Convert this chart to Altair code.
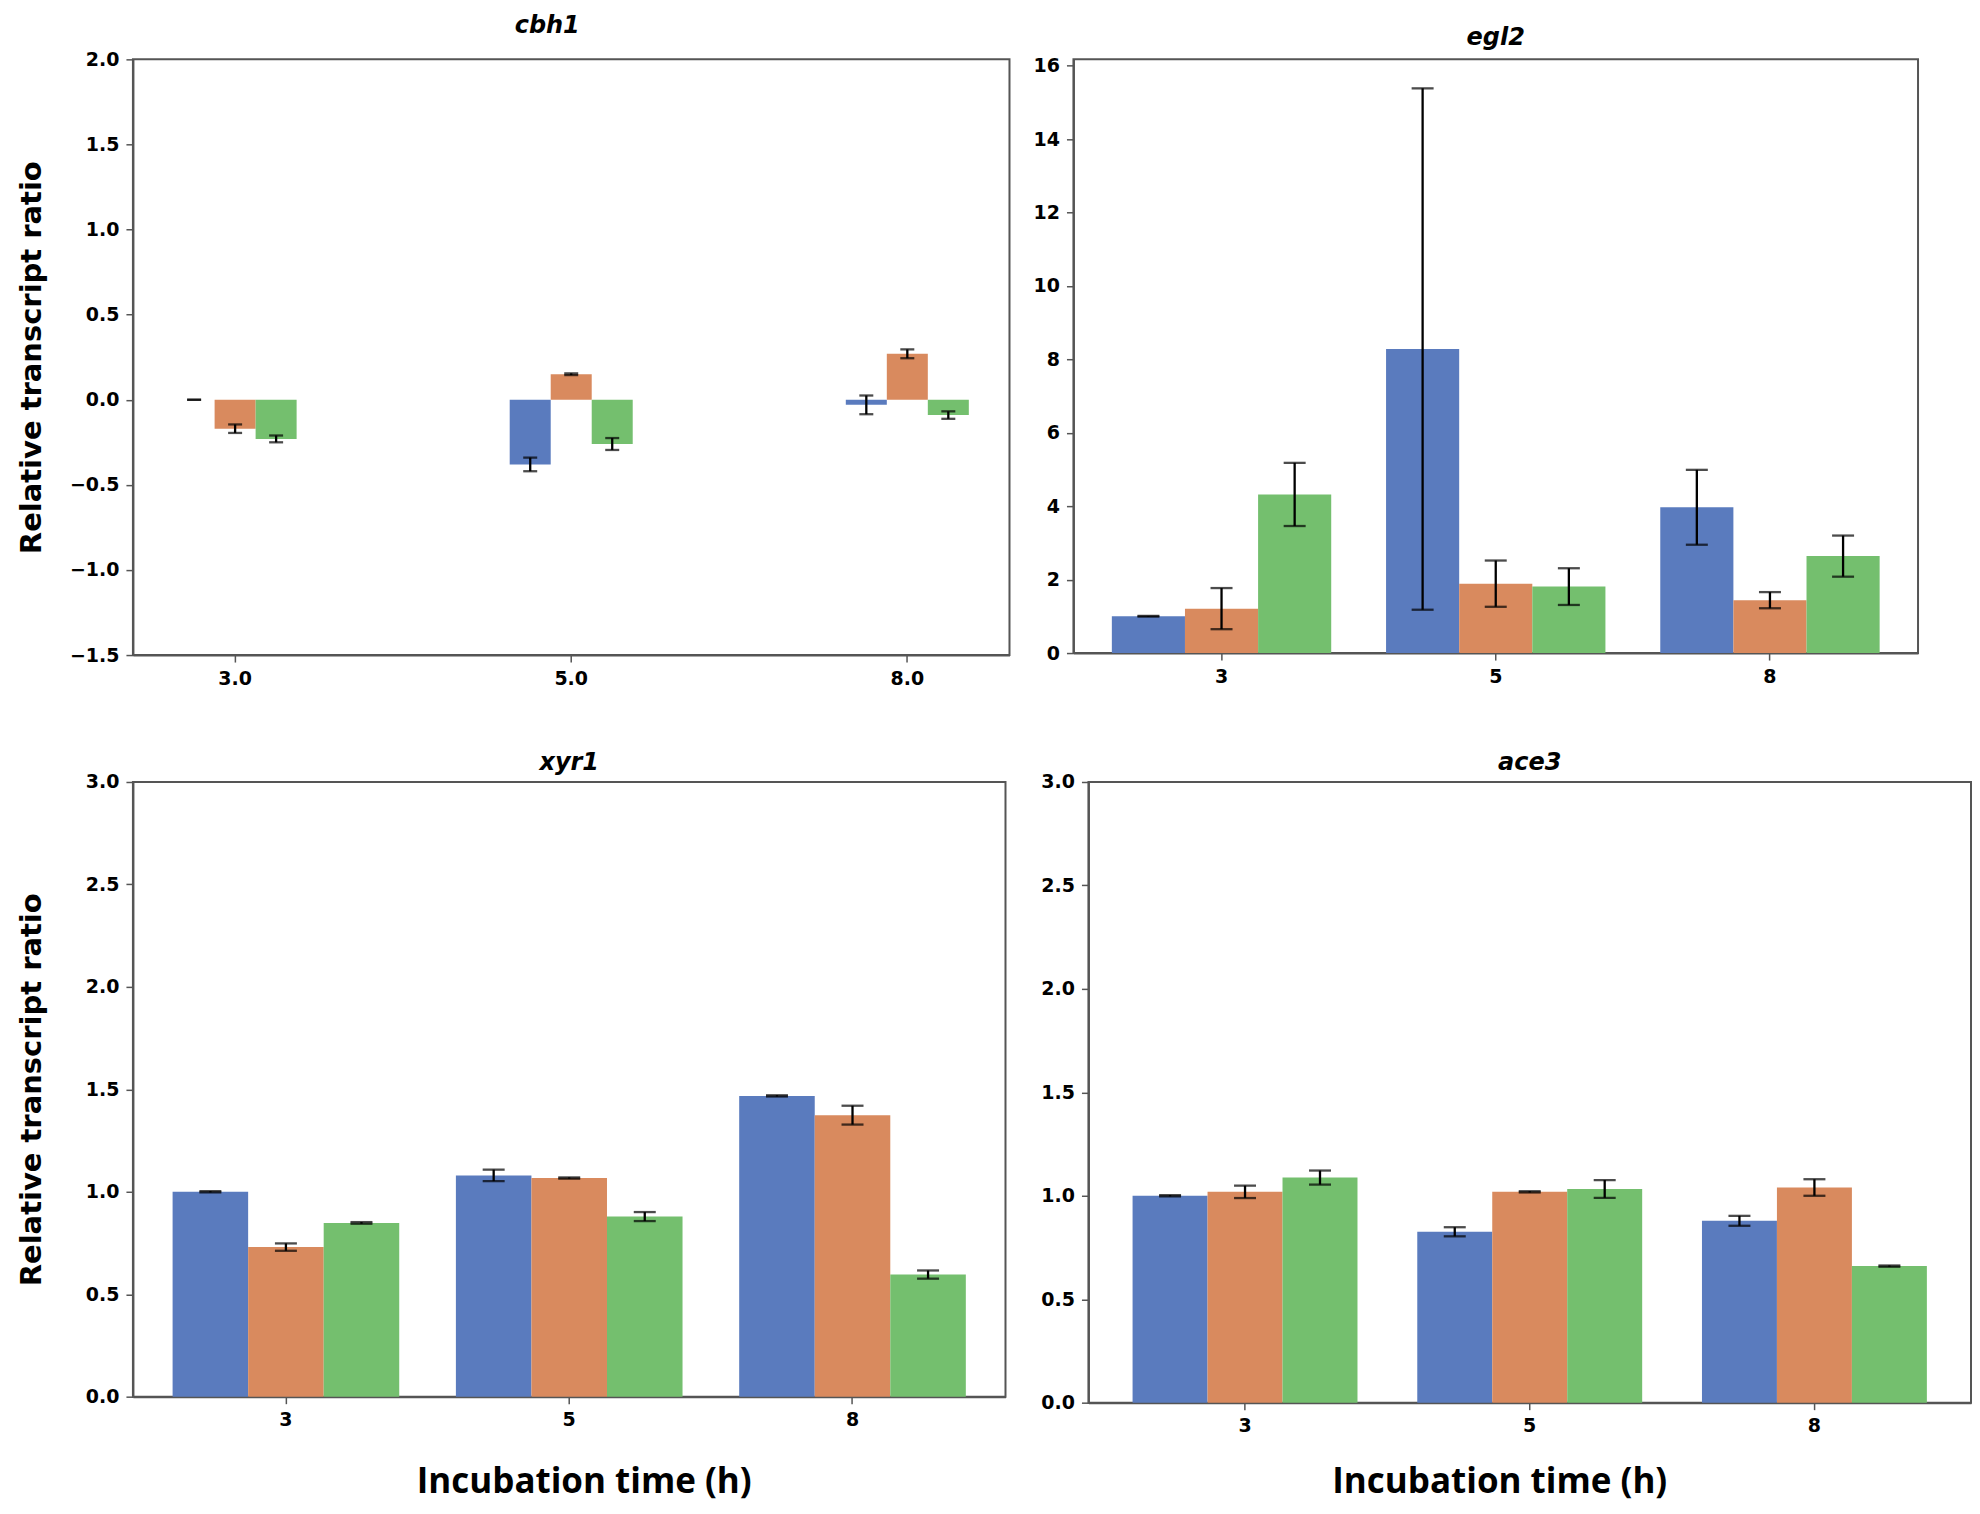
import altair as alt
import pandas as pd

# three unnamed series (no legend in the figure), drawn blue / orange / green
series = ["s1", "s2", "s3"]
colors = ["#5A7BBE", "#D98A5E", "#74BF6E"]

times = ["3", "5", "8"]
cbh1_times = ["3.0", "5.0", "8.0"]

cbh1_blue = [0.0, -0.38, -0.03]
cbh1_blue_err = [0.0, 0.04, 0.055]
cbh1_orange = [-0.17, 0.15, 0.27]
cbh1_orange_err = [0.025, 0.005, 0.026]
cbh1_green = [-0.23, -0.26, -0.09]
cbh1_green_err = [0.02, 0.035, 0.022]

egl2_blue = [1.0, 8.28, 3.97]
egl2_blue_err = [0.01, 7.1, 1.02]
egl2_orange = [1.21, 1.89, 1.44]
egl2_orange_err = [0.56, 0.63, 0.22]
egl2_green = [4.32, 1.81, 2.64]
egl2_green_err = [0.86, 0.5, 0.56]

xyr1_blue = [1.0, 1.08, 1.468]
xyr1_blue_err = [0.003, 0.028, 0.003]
xyr1_orange = [0.73, 1.067, 1.374]
xyr1_orange_err = [0.018, 0.003, 0.046]
xyr1_green = [0.848, 0.879, 0.596]
xyr1_green_err = [0.004, 0.022, 0.02]

ace3_blue = [1.0, 0.826, 0.879]
ace3_blue_err = [0.003, 0.022, 0.024]
ace3_orange = [1.019, 1.019, 1.04]
ace3_orange_err = [0.03, 0.003, 0.04]
ace3_green = [1.088, 1.033, 0.66]
ace3_green_err = [0.034, 0.043, 0.003]

cbh1_ticks = [-1.5, -1.0, -0.5, 0.0, 0.5, 1.0, 1.5, 2.0]
egl2_ticks = [0, 2, 4, 6, 8, 10, 12, 14, 16]
small_ticks = [0.0, 0.5, 1.0, 1.5, 2.0, 2.5, 3.0]

Y_TITLE = "Relative transcript ratio"
X_TITLE = "Incubation time (h)"


def make_table(labels, blue, blue_err, orange, orange_err, green, green_err):
    rows = []
    for name, vals, errs in zip(series, [blue, orange, green],
                                [blue_err, orange_err, green_err]):
        for t, v, e in zip(labels, vals, errs):
            rows.append({"time": t, "series": name, "value": v,
                         "lo": v - e, "hi": v + e})
    return pd.DataFrame(rows)


def make_panel(df, labels, title, domain, ticks, fmt, width, height,
               pad_inner, pad_outer, cap, title_offset, title_dx=0,
               y_title=None, y_title_pad=20,
               x_title=None, x_title_pad=30, x_title_x=0):
    y_axis = dict(values=ticks, format=fmt)
    if y_title:
        y_axis.update(title=y_title, titlePadding=y_title_pad,
                      titleFont="DejaVu Sans", titleFontSize=29)
    else:
        y_axis.update(title=None)
    x_axis = dict(labelAngle=0)
    if x_title:
        x_axis.update(title=x_title, titlePadding=x_title_pad,
                      titleX=x_title_x, titleAlign="center",
                      titleFont="Open Sans", titleFontSize=35)
    else:
        x_axis.update(title=None)

    x = alt.X("time:N", sort=labels, axis=alt.Axis(**x_axis),
              scale=alt.Scale(paddingInner=pad_inner, paddingOuter=pad_outer))
    xoff = alt.XOffset("series:N", sort=series,
                       scale=alt.Scale(paddingInner=0, paddingOuter=0))
    y_scale = alt.Scale(domain=domain, nice=False)

    base = alt.Chart(df).encode(x=x, xOffset=xoff)

    bars = base.mark_bar().encode(
        y=alt.Y("value:Q", scale=y_scale, axis=alt.Axis(**y_axis)),
        color=alt.Color("series:N", sort=series, legend=None,
                        scale=alt.Scale(domain=series, range=colors)),
    )
    whisker = base.mark_rule(color="black", strokeWidth=2.3).encode(
        y="lo:Q", y2="hi:Q")
    cap_hi = base.mark_tick(color="black", thickness=2.3, size=cap,
                            orient="horizontal").encode(y="hi:Q")
    cap_lo = base.mark_tick(color="black", thickness=2.3, size=cap,
                            orient="horizontal").encode(y="lo:Q")

    return (bars + whisker + cap_hi + cap_lo).properties(
        width=width, height=height,
        title=alt.TitleParams(title, fontStyle="italic", fontWeight="bold",
                              fontSize=24, font="DejaVu Sans",
                              offset=title_offset, dx=title_dx),
    )


cbh1 = make_panel(
    make_table(cbh1_times, cbh1_blue, cbh1_blue_err, cbh1_orange,
               cbh1_orange_err, cbh1_green, cbh1_green_err),
    cbh1_times, "cbh1", [-1.5, 2.0], cbh1_ticks, ".1f", 877, 596,
    0.634, 0.121, 14, 12, title_dx=-24, y_title=Y_TITLE, y_title_pad=23)

egl2 = make_panel(
    make_table(times, egl2_blue, egl2_blue_err, egl2_orange,
               egl2_orange_err, egl2_green, egl2_green_err),
    times, "egl2", [0, 16.17], egl2_ticks, "d", 845, 594,
    0.2, 0.14, 22, 7)

xyr1 = make_panel(
    make_table(times, xyr1_blue, xyr1_blue_err, xyr1_orange,
               xyr1_orange_err, xyr1_green, xyr1_green_err),
    times, "xyr1", [0, 3.0], small_ticks, ".1f", 873, 615,
    0.2, 0.14, 22, -2, y_title=Y_TITLE, y_title_pad=39,
    x_title=X_TITLE, x_title_pad=35, x_title_x=451)

ace3 = make_panel(
    make_table(times, ace3_blue, ace3_blue_err, ace3_orange,
               ace3_orange_err, ace3_green, ace3_green_err),
    times, "ace3", [0, 3.0], small_ticks, ".1f", 883, 621,
    0.21, 0.155, 22, -2, x_title=X_TITLE, x_title_pad=29, x_title_x=411)

top = alt.hconcat(cbh1, egl2, spacing=21).resolve_scale(xOffset="independent")
bottom = alt.hconcat(xyr1, ace3, spacing=33).resolve_scale(xOffset="independent")

chart = alt.vconcat(top, bottom, spacing=61).resolve_scale(
    xOffset="independent"
).configure_view(
    stroke="#555", strokeWidth=2
).configure_axis(
    grid=False,
    domainColor="#555",
    domainWidth=2,
    tickColor="#555",
    tickWidth=1.5,
    tickSize=7,
    labelFont="DejaVu Sans",
    labelFontWeight="bold",
    labelFontSize=19,
    labelColor="black",
    labelPadding=7,
    titleFontWeight="bold",
    titleColor="black",
).properties(background="white",
             padding={"left": 8, "top": 5, "right": 0, "bottom": 5})

chart.save("out.html", embed_options={"renderer": "svg", "actions": False})
